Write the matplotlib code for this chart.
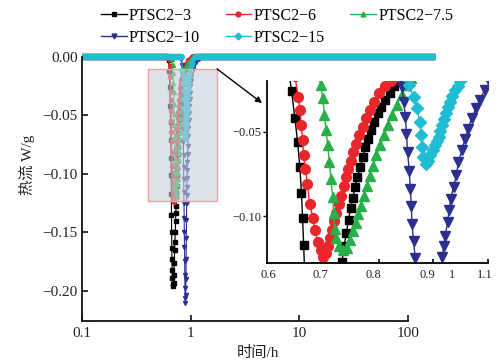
import numpy as np
import matplotlib
matplotlib.use('Agg')
import matplotlib.pyplot as plt
from matplotlib.lines import Line2D
from matplotlib.patches import Rectangle

plt.rcParams['font.family'] = ['Liberation Serif', 'Noto Sans CJK SC']
plt.rcParams['axes.unicode_minus'] = True

names = ['PTSC2−3', 'PTSC2−6', 'PTSC2−7.5', 'PTSC2−10', 'PTSC2−15']
colors = ['#000000', '#e8262b', '#27b04a', '#2b2f90', '#1fbcd2']
markers = ['s', 'o', '^', 'v', 'D']

# heat flow (W/g) vs time (h)
t_3 = [0.1, 0.615, 0.625, 0.635, 0.641, 0.647, 0.652, 0.656, 0.659, 0.661, 0.663,
       0.665, 0.667, 0.669, 0.671, 0.674, 0.678, 0.683, 0.689, 0.695, 0.700, 0.705,
       0.710, 0.715, 0.720, 0.725, 0.729, 0.733, 0.737, 0.741, 0.745, 0.749, 0.753,
       0.757, 0.761, 0.766, 0.771, 0.776, 0.781, 0.786, 0.792, 0.798, 0.805, 0.812,
       0.820, 0.828, 0.837, 0.847, 0.860, 0.880, 0.910, 0.950, 1.000, 1.100, 177]
q_3 = [0, 0, -0.003, -0.012, -0.026, -0.042, -0.056, -0.071, -0.086, -0.101, -0.117,
       -0.135, -0.150, -0.163, -0.173, -0.182, -0.189, -0.194, -0.196, -0.193, -0.186, -0.176,
       -0.165, -0.158, -0.150, -0.140, -0.133, -0.127, -0.118, -0.110, -0.102, -0.095, -0.089,
       -0.083, -0.077, -0.071, -0.065, -0.059, -0.054, -0.049, -0.044, -0.039, -0.035, -0.031,
       -0.027, -0.023, -0.020, -0.017, -0.014, -0.010, -0.007, -0.004, -0.002, 0, 0]

t_6 = [0.1, 0.62, 0.63, 0.64, 0.647, 0.653, 0.656, 0.659, 0.661, 0.663, 0.666, 0.670,
       0.674, 0.680, 0.683, 0.689, 0.694, 0.698, 0.703, 0.707, 0.711, 0.715, 0.719,
       0.723, 0.727, 0.731, 0.736, 0.740, 0.744, 0.749, 0.754, 0.759, 0.765, 0.771,
       0.777, 0.784, 0.792, 0.801, 0.811, 0.822, 0.835, 0.850, 0.870, 0.900, 0.950,
       1.000, 1.050, 177]
q_6 = [0, 0, -0.002, -0.008, -0.017, -0.029, -0.037, -0.046, -0.055, -0.064, -0.072, -0.081,
       -0.093, -0.101, -0.108, -0.1155, -0.120, -0.124, -0.122, -0.118, -0.113, -0.108, -0.103,
       -0.098, -0.093, -0.088, -0.082, -0.077, -0.072, -0.067, -0.062, -0.057, -0.052, -0.047,
       -0.042, -0.037, -0.032, -0.027, -0.023, -0.020, -0.017, -0.014, -0.010, -0.006, -0.003,
       -0.001, 0, 0]

t_75 = [0.1, 0.66, 0.67, 0.68, 0.688, 0.694, 0.698, 0.701, 0.704, 0.707, 0.710, 0.713,
        0.716, 0.718, 0.7195, 0.723, 0.728, 0.735, 0.742, 0.748, 0.753, 0.758, 0.763,
        0.768, 0.773, 0.778, 0.784, 0.790, 0.796, 0.803, 0.810, 0.817, 0.825, 0.833,
        0.842, 0.851, 0.860, 0.875, 0.900, 0.950, 1.000, 1.100, 177]
q_75 = [0, 0, -0.002, -0.007, -0.014, -0.022, -0.030, -0.040, -0.049, -0.058, -0.068, -0.078,
        -0.0887, -0.098, -0.1075, -0.113, -0.1175, -0.120, -0.119, -0.114, -0.109, -0.104, -0.099,
        -0.094, -0.088, -0.082, -0.076, -0.070, -0.064, -0.058, -0.052, -0.046, -0.040, -0.034,
        -0.028, -0.022, -0.018, -0.013, -0.008, -0.004, -0.002, 0, 0]

t_10 = [0.1, 0.81, 0.82, 0.83, 0.837, 0.843, 0.846, 0.849, 0.851, 0.853, 0.856, 0.858,
        0.860, 0.861, 0.864, 0.867, 0.870, 0.873, 0.876, 0.879, 0.882, 0.885, 0.889,
        0.894, 0.899, 0.903, 0.907, 0.911, 0.914, 0.916, 0.919, 0.922, 0.926, 0.929,
        0.932, 0.937, 0.942, 0.946, 0.952, 0.958, 0.964, 0.970, 0.978, 0.985, 0.994,
        1.003, 1.015, 1.030, 1.050, 1.080, 1.120, 1.180, 1.250, 177]
q_10 = [0, 0, -0.002, -0.007, -0.014, -0.0232, -0.032, -0.041, -0.051, -0.062, -0.073, -0.084,
        -0.094, -0.1045, -0.115, -0.125, -0.138, -0.150, -0.162, -0.174, -0.186, -0.197, -0.206,
        -0.210, -0.203, -0.190, -0.173, -0.155, -0.139, -0.1244, -0.118, -0.1115, -0.1036, -0.0966,
        -0.0896, -0.0827, -0.0758, -0.0679, -0.061, -0.054, -0.048, -0.042, -0.036, -0.031, -0.025,
        -0.021, -0.017, -0.013, -0.010, -0.007, -0.004, -0.002, 0, 0]

t_15 = [0.1, 0.83, 0.835, 0.845, 0.855, 0.864, 0.870, 0.875, 0.878, 0.880, 0.882, 0.886,
        0.890, 0.8945, 0.899, 0.9036, 0.907, 0.910, 0.913, 0.916, 0.920, 0.924, 0.927,
        0.931, 0.935, 0.940, 0.945, 0.949, 0.960, 0.975, 0.995, 1.020, 1.060, 1.120, 177]
q_15 = [0, 0, -0.011, -0.016, -0.022, -0.029, -0.036, -0.044, -0.052, -0.059, -0.065, -0.069,
        -0.067, -0.0639, -0.061, -0.058, -0.0555, -0.053, -0.0495, -0.046, -0.0425, -0.039, -0.0355,
        -0.032, -0.0285, -0.025, -0.0225, -0.020, -0.016, -0.012, -0.008, -0.005, -0.002, 0, 0]

series = [(t_3, q_3), (t_6, q_6), (t_75, q_75), (t_10, q_10), (t_15, q_15)]

main_ticks = [0.1, 1, 10, 100]
main_ticklabels = ['0.1', '1', '10', '100']
inset_label_pos = [0.598, 0.693, 0.790, 0.8885, 0.934, 0.9945]
inset_labels = ['0.6', '0.7', '0.8', '0.9', '1', '1.1']
inset_marks = [0.7, 0.8, 0.9, 1.0]

txt = '#222222'
fig = plt.figure(figsize=(5.04, 3.62), dpi=100)
W, H = 504, 362

ax = fig.add_axes([82 / W, 1 - 321 / H, 354 / W, 270 / H])
for (t, q), c, m in zip(series, colors, markers):
    t = np.array(t)
    q = np.array(q)
    dip = list(np.where(q < 0)[0])
    ax.plot(t, q, color=c, lw=0.8, marker=m, ms=2.9, markevery=dip)
    ax.plot(t, np.where(q == 0, q, np.nan), color=c, lw=4.5, solid_capstyle='round')

ax.set_xscale('log')
ax.set_xlim(0.1, 180)
ax.set_ylim(-0.2256, 0.005)
ax.set_xticks(main_ticks, main_ticklabels)
ax.set_xticks([], minor=True)
ax.set_yticks([0, -0.05, -0.10, -0.15, -0.20])
ax.set_yticklabels(['0.00', '−0.05', '−0.10', '−0.15', '−0.20'])
for s in ['top', 'right']:
    ax.spines[s].set_visible(False)
ax.spines['bottom'].set_bounds(0.1, 100)
ax.spines['left'].set_bounds(-0.2256, 0)
for s in ['bottom', 'left']:
    ax.spines[s].set_linewidth(1.3)
    ax.spines[s].set_color('#111111')
ax.tick_params(direction='in', length=4, width=1.2, labelsize=11, colors='#111111',
               labelcolor=txt, pad=4)
ax.tick_params(axis='y', pad=3)
ax.patch.set_alpha(0)

rect = Rectangle((0.404, -0.123), 1.746 - 0.404, 0.1127, facecolor=(0.77, 0.81, 0.85, 0.6),
                 edgecolor='#f4a0a0', lw=1, zorder=5)
ax.add_patch(rect)
ax.annotate('', xy=(262 / W, 1 - 103 / H), xycoords='figure fraction',
            xytext=(1.746, -0.0103), textcoords='data',
            arrowprops=dict(arrowstyle='-|>', color='k', lw=1, mutation_scale=9,
                            shrinkA=0, shrinkB=0), zorder=6)

# inset zoom on the dip
ins = fig.add_axes([267 / W, 1 - 263.3 / H, 221 / W, 182.6 / H])
sizes = {'s': 6.2, 'o': 7, '^': 7, 'v': 7, 'D': 6}
for (t, q), c, m in zip(series, colors, markers):
    ins.plot(t, q, color=c, lw=1, marker=m, ms=sizes[m])
ins.set_xlim(0.596, 1.0)
ins.set_ylim(-0.128, -0.0196)
ins.set_xticks(inset_label_pos, inset_labels)
ins.set_xticks(inset_marks, minor=True)
ins.tick_params(axis='x', which='major', length=0, pad=4, labelsize=9, labelcolor=txt)
ins.tick_params(axis='x', which='minor', direction='in', length=3, width=1.2)
ins.set_yticks([-0.05, -0.10])
ins.set_yticklabels(['−0.05', '−0.10'])
ins.tick_params(axis='y', direction='out', length=3, width=1, labelsize=9, labelcolor=txt, pad=1)
for s in ['top', 'right']:
    ins.spines[s].set_visible(False)
for s in ['bottom', 'left']:
    ins.spines[s].set_linewidth(1.3)
ins.patch.set_alpha(0)

# legend is filled row by row: 3, 6, 7.5 / 10, 15
order = [0, 3, 1, 4, 2]
handles = [Line2D([], [], color=colors[i], marker=markers[i], ms=3.5, lw=1) for i in order]
fig.legend(handles, [names[i] for i in order], loc='upper left',
           bbox_to_anchor=(101 / W, 1 - 8 / H), ncol=3,
           frameon=False, fontsize=11.5, handlelength=1.6, handletextpad=0.15,
           columnspacing=1.6, labelspacing=0.35, borderpad=0, borderaxespad=0)

fig.text(27 / W, 1 - 165 / H, '热流 W/g', rotation=90, ha='center', va='center',
         fontsize=11, color=txt)
fig.text(258 / W, 1 - 353 / H, '时间/h', ha='center', va='center', fontsize=11, color=txt)

fig.savefig('out.png', dpi=100)
